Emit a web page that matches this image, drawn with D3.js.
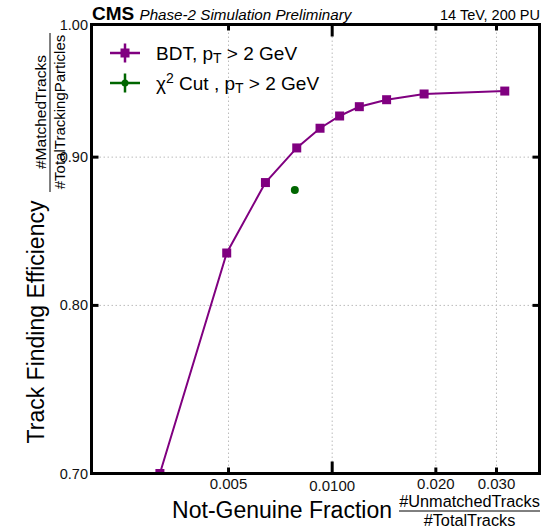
<!DOCTYPE html>
<html><head><meta charset="utf-8">
<script src="https://cdn.jsdelivr.net/npm/d3@7"></script>
<style>
body{margin:0;background:#fff;}
svg{font-family:"Liberation Sans",Arial,sans-serif;}
</style></head>
<body><svg id="c" width="554" height="530"></svg>
<script>
const bdtX = [0.00316, 0.00494, 0.00640, 0.00789, 0.00922, 0.01051, 0.01199, 0.01439, 0.01849, 0.03171];
const bdtY = [0.700, 0.834, 0.882, 0.9066, 0.9209, 0.9299, 0.9368, 0.9420, 0.9463, 0.9485];
const chiX = [0.00779];
const chiY = [0.8768];
const xTicks = [0.005, 0.01, 0.02, 0.03];
const xTickLabels = ["0.005", "0.0100", "0.020", "0.030"];
const yTicks = [0.7, 0.8, 0.9, 1.0];
const yTickLabels = ["0.70", "0.80", "0.90", "1.00"];

const svg = d3.select("#c");
const L = 91.5, R = 539.5, T = 24.5, B = 473.5;
const x = d3.scaleLog().domain([0.002, 0.04]).range([L, R]);
const y = d3.scaleLog().domain([0.7, 1.0]).range([B, T]);
const purple = "#800080", green = "#006600";

// grid
const grid = svg.append("g").attr("stroke", "#bbb").attr("stroke-width", 1).attr("stroke-dasharray", "1.5,2.5");
xTicks.forEach(v => grid.append("line").attr("x1", x(v)).attr("x2", x(v)).attr("y1", T).attr("y2", B));
[0.8, 0.9].forEach(v => grid.append("line").attr("x1", L).attr("x2", R).attr("y1", y(v)).attr("y2", y(v)));

// clip
svg.append("clipPath").attr("id", "clip").append("rect").attr("x", L).attr("y", T).attr("width", R - L).attr("height", B - T);
const plot = svg.append("g").attr("clip-path", "url(#clip)");

const bdt = bdtX.map((d, i) => [d, bdtY[i]]);
plot.append("path").datum(bdt)
  .attr("d", d3.line().x(d => x(d[0])).y(d => y(d[1])))
  .attr("fill", "none").attr("stroke", purple).attr("stroke-width", 2);
plot.selectAll("rect.m").data(bdt).join("rect")
  .attr("x", d => x(d[0]) - 4.5).attr("y", d => y(d[1]) - 4.5)
  .attr("width", 9).attr("height", 9).attr("fill", purple);
plot.selectAll("circle.c").data(chiX.map((d, i) => [d, chiY[i]])).join("circle")
  .attr("cx", d => x(d[0])).attr("cy", d => y(d[1])).attr("r", 4).attr("fill", green);

// frame
svg.append("rect").attr("x", L).attr("y", T).attr("width", R - L).attr("height", B - T)
  .attr("fill", "none").attr("stroke", "#000").attr("stroke-width", 3);

// ticks
const tk = svg.append("g").attr("stroke", "#000").attr("stroke-width", 3);
xTicks.forEach(v => {
  const len = v === 0.01 ? 12 : 6;
  tk.append("line").attr("x1", x(v)).attr("x2", x(v)).attr("y1", B).attr("y2", B - len);
  tk.append("line").attr("x1", x(v)).attr("x2", x(v)).attr("y1", T).attr("y2", T + len);
});
[0.8, 0.9].forEach(v => {
  tk.append("line").attr("x1", R).attr("x2", R - 7).attr("y1", y(v)).attr("y2", y(v));
  tk.append("line").attr("x1", L).attr("x2", L + 7).attr("y1", y(v)).attr("y2", y(v));
});

// tick labels
xTicks.forEach((v, i) => {
  svg.append("text").attr("x", x(v)).attr("y", v === 0.01 ? 490.5 : 488.5)
    .attr("text-anchor", "middle").attr("font-size", 15).attr("fill", "#111").text(xTickLabels[i]);
});
yTicks.forEach((v, i) => {
  svg.append("text").attr("x", 88).attr("y", y(v) + 5)
    .attr("text-anchor", "end").attr("font-size", 14.5).attr("fill", "#111").text(yTickLabels[i]);
});

// header
svg.append("text").attr("x", 92).attr("y", 19.5).attr("font-size", 19).attr("font-weight", "bold").text("CMS");
svg.append("text").attr("x", 139.5).attr("y", 19.5).attr("font-size", 15.2).attr("font-style", "italic").text("Phase-2 Simulation Preliminary");
svg.append("text").attr("x", 540).attr("y", 19.5).attr("font-size", 14.5).attr("text-anchor", "end").text("14 TeV, 200 PU");

// axis titles
svg.append("text").attr("transform", "translate(44,322) rotate(-90)")
  .attr("font-size", 23).attr("text-anchor", "middle").text("Track Finding Efficiency");
svg.append("text").attr("transform", "translate(46,112) rotate(-90)").attr("text-anchor", "middle").attr("font-size", 15.5).text("#MatchedTracks");
svg.append("text").attr("transform", "translate(64.5,112) rotate(-90)").attr("text-anchor", "middle").attr("font-size", 15).text("#TotalTrackingParticles");
svg.append("line").attr("x1", 50).attr("x2", 50).attr("y1", 33).attr("y2", 192).attr("stroke", "#000").attr("stroke-width", 1);

svg.append("text").attr("x", 392).attr("y", 518).attr("font-size", 23).attr("text-anchor", "end").text("Not-Genuine Fraction");
svg.append("text").attr("x", 469.5).attr("y", 507).attr("font-size", 16.3).attr("text-anchor", "middle").text("#UnmatchedTracks");
svg.append("text").attr("x", 469.5).attr("y", 526).attr("font-size", 16.3).attr("text-anchor", "middle").text("#TotalTracks");
svg.append("line").attr("x1", 399).attr("x2", 540).attr("y1", 511).attr("y2", 511).attr("stroke", "#000").attr("stroke-width", 1);

// legend
const leg = svg.append("g");
const e1y = 53, e2y = 83, lx0 = 110, lx1 = 140, lc = 125;
leg.append("line").attr("x1", lx0).attr("x2", lx1).attr("y1", e1y).attr("y2", e1y).attr("stroke", purple).attr("stroke-width", 2.5);
leg.append("line").attr("x1", lc).attr("x2", lc).attr("y1", e1y - 9.5).attr("y2", e1y + 9.5).attr("stroke", purple).attr("stroke-width", 2.5);
leg.append("rect").attr("x", lc - 4.5).attr("y", e1y - 4.5).attr("width", 9).attr("height", 9).attr("fill", purple);
leg.append("line").attr("x1", lx0).attr("x2", lx1).attr("y1", e2y).attr("y2", e2y).attr("stroke", green).attr("stroke-width", 2.5);
leg.append("line").attr("x1", lc).attr("x2", lc).attr("y1", e2y - 9.5).attr("y2", e2y + 9.5).attr("stroke", green).attr("stroke-width", 2.5);
leg.append("circle").attr("cx", lc).attr("cy", e2y).attr("r", 3.5).attr("fill", green);

const t1 = leg.append("text").attr("x", 156).attr("y", e1y + 6.5).attr("font-size", 19);
t1.append("tspan").text("BDT, p");
t1.append("tspan").attr("font-size", 14).attr("dy", 3).text("T");
t1.append("tspan").attr("dy", -3).text(" > 2 GeV");
const t2 = leg.append("text").attr("x", 156).attr("y", e2y + 6.5).attr("font-size", 19);
t2.append("tspan").text("χ");
t2.append("tspan").attr("font-size", 14).attr("dy", -7).text("2");
t2.append("tspan").attr("dy", 7).text(" Cut , p");
t2.append("tspan").attr("font-size", 14).attr("dy", 3).text("T");
t2.append("tspan").attr("dy", -3).text(" > 2 GeV");
</script></body></html>
